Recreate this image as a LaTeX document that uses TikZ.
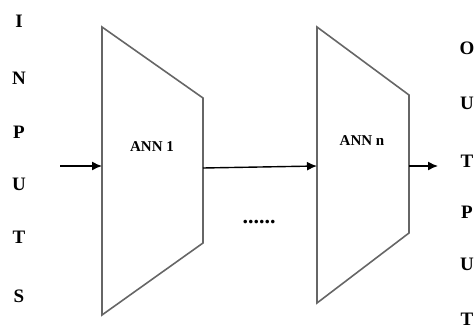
\documentclass[tikz,border=0pt]{standalone}
\usepackage{fontspec}
\setmainfont{Liberation Serif}
\usetikzlibrary{positioning, arrows.meta}

\begin{document}
\begin{tikzpicture}[x=1pt, y=-1pt,
    letter/.style={font=\fontsize{19}{19}\selectfont\bfseries, inner sep=0pt},
    annlabel/.style={font=\fontsize{15}{15}\selectfont\bfseries, inner sep=0pt},
    block/.style={draw=black!60, line width=1.6pt},
    link/.style={->, >={Latex[length=10pt, width=9pt]}, line width=1.4pt}]
\useasboundingbox (0, 0) rectangle (475, 329);
        % Draw the blocks
        \coordinate (1a) at (102, 27);
        \coordinate (1b) at (203, 98);
        \coordinate (1c) at (203, 243);
        \coordinate (1d) at (102, 315);
        \coordinate (2a) at (317, 27);
        \coordinate (2b) at (409, 95);
        \coordinate (2c) at (409, 233);
        \coordinate (2d) at (317, 303);
\draw[block]  (1a) -- (1b) -- (1c) -- (1d) -- cycle;
\draw[block]  (2a) -- (2b) -- (2c) -- (2d) -- cycle;
        \node[annlabel] at (152, 147)     (ann1)    {ANN 1};
        \node[annlabel] at (362, 141)     (annn)    {ANN n};
        \node[annlabel, anchor=base, font=\fontsize{22}{22}\selectfont\bfseries] at (259, 224)     (dots)    {......};

        % Draw the letters
        \node[letter] at (19, 21)      (in1)     {I};
        \node[letter] at (19, 78)      (in2)     {N};
        \node[letter] at (19, 132)     (in3)     {P};
        \node[letter] at (19, 184)     (in4)     {U};
        \node[letter] at (19, 237)     (in5)     {T};
        \node[letter] at (19, 296)     (in6)     {S};
        \node[letter] at (467, 48)     (out1)    {O};
        \node[letter] at (467, 103)    (out2)    {U};
        \node[letter] at (467, 161)    (out3)    {T};
        \node[letter] at (467, 212)    (out4)    {P};
        \node[letter] at (467, 264)    (out5)    {U};
        \node[letter] at (467, 319)    (out6)    {T};

        % Connect the blocks with arrows
        \coordinate (src) at (60, 166);
        \coordinate (1in) at (102, 166);
        \coordinate (1out) at (203, 168);
        \coordinate (2in) at (317, 166);
        \coordinate (2out) at (409, 166);
        \coordinate (dst) at (438, 166);
\draw[link]  (src) -- (1in);
\draw[link]  (1out) -- (2in);
\draw[link]  (2out) -- (dst);
\end{tikzpicture}
\end{document}
